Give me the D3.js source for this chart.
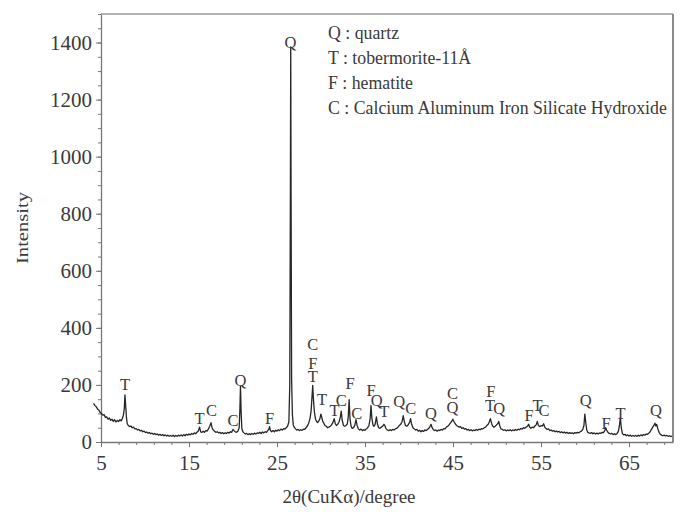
<!DOCTYPE html>
<html>
<head>
<meta charset="utf-8">
<script src="https://cdn.jsdelivr.net/npm/d3@7"></script>
<style>
  body { margin: 0; background: #fff; }
  text { font-family: "Liberation Serif", "Times New Roman", serif; fill: #3a3a3a; }
</style>
</head>
<body>
<svg id="xrd" width="688" height="512"></svg>
<script>
// scan, [2theta, intensity], split in three pieces
var scanLow = [[4.15,135],[4.3,128],[4.45,124],[4.6,116],[4.75,112],[4.9,104],[5.05,100],[5.2,94],[5.35,96],[5.5,86],[5.65,88],[5.8,80],[5.95,84],[6.1,76],[6.25,80],[6.4,72],[6.55,78],[6.7,70],[6.85,76],[7.0,72],[7.15,78],[7.3,74],[7.45,84],[7.55,95],[7.65,118],[7.72,165],[7.8,130],[7.88,90],[7.98,64],[8.1,58],[8.25,54],[8.4,56],[8.55,50],[8.7,52],[8.85,46],[9.0,47],[9.15,42],[9.3,44],[9.45,39],[9.6,41],[9.75,36],[9.9,38],[10.05,33],[10.2,35],[10.35,31],[10.5,33],[10.65,29],[10.8,31],[10.95,27],[11.1,30],[11.25,26],[11.4,28],[11.55,24],[11.7,27],[11.85,23],[12.0,26],[12.15,22],[12.3,25],[12.45,21],[12.6,24],[12.75,20],[12.9,23],[13.05,20],[13.2,24],[13.35,19],[13.5,23],[13.65,20],[13.8,24],[13.95,21],[14.1,25],[14.25,21],[14.4,26],[14.55,22],[14.7,27],[14.85,24],[15.0,28],[15.15,25],[15.3,30],[15.45,27],[15.6,32],[15.75,29],[15.9,34],[16.05,38],[16.2,52],[16.32,36],[16.45,33],[16.6,38],[16.75,34],[16.9,40],[17.05,38],[17.2,45],[17.35,55],[17.5,68],[17.62,50],[17.75,42],[17.9,38],[18.05,34],[18.2,36],[18.35,32],[18.5,34],[18.65,30],[18.8,33],[18.95,29],[19.1,32],[19.25,30],[19.4,34],[19.55,31],[19.7,36],[19.85,34],[20.0,44],[20.12,40],[20.25,36],[20.4,34],[20.55,38],[20.7,50],[20.78,110],[20.85,195],[20.92,110],[21.0,48],[21.12,36],[21.25,32],[21.4,28],[21.55,30],[21.7,26],[21.85,29],[22.0,26],[22.15,30],[22.3,27],[22.45,31],[22.6,28],[22.75,32],[22.9,30],[23.05,34],[23.2,30],[23.35,35],[23.5,32],[23.65,36],[23.8,34],[23.95,40],[24.08,46],[24.16,54],[24.25,40],[24.4,36],[24.55,40],[24.7,36],[24.85,41],[25.0,38],[25.15,43],[25.3,40],[25.45,45],[25.6,42],[25.75,47],[25.9,45],[26.05,50],[26.2,55],[26.35,70],[26.45,200],[26.52,860],[26.56,1385],[26.6,860],[26.66,220],[26.75,95],[26.85,60]];

var scanMid = [[26.95,52],[27.1,46],[27.25,42],[27.4,44],[27.55,40],[27.7,43],[27.85,41],[28.0,45],[28.15,44],[28.3,50],[28.45,56],[28.6,66],[28.75,82],[28.88,110],[28.98,160],[29.06,198],[29.14,150],[29.25,105],[29.38,80],[29.5,72],[29.62,68],[29.75,74],[29.88,82],[29.98,98],[30.08,88],[30.2,72],[30.32,66],[30.45,58],[30.6,55],[30.75,50],[30.9,52],[31.05,55],[31.2,60],[31.35,68],[31.5,82],[31.62,64],[31.75,58],[31.9,62],[32.05,70],[32.2,88],[32.3,108],[32.4,78],[32.55,58],[32.7,55],[32.85,58],[33.0,64],[33.1,90],[33.2,148],[33.3,80],[33.42,55],[33.55,48],[33.7,50],[33.85,60],[33.98,78],[34.1,58],[34.25,46],[34.4,42],[34.55,45],[34.7,40],[34.85,43],[35.0,41],[35.15,46],[35.3,50],[35.45,58],[35.58,80],[35.68,128],[35.78,85],[35.9,60],[36.02,55],[36.15,62],[36.3,88],[36.42,62],[36.55,50],[36.7,48],[36.85,52],[37.0,55],[37.15,62],[37.25,58],[37.4,46],[37.55,42],[37.7,40],[37.85,43],[38.0,40],[38.15,44],[38.3,42],[38.45,46],[38.6,48],[38.75,52],[38.9,58],[39.05,62],[39.2,70],[39.35,92],[39.48,70],[39.6,58],[39.75,55],[39.9,60],[40.05,68],[40.18,82],[40.3,62],[40.45,50],[40.6,46]];

var scanHigh = [[40.75,42],[40.9,44],[41.05,38],[41.2,41],[41.35,36],[41.5,40],[41.65,37],[41.8,42],[41.95,40],[42.1,44],[42.25,48],[42.4,55],[42.5,62],[42.6,52],[42.75,44],[42.9,40],[43.05,42],[43.2,38],[43.35,42],[43.5,40],[43.65,44],[43.8,42],[43.95,47],[44.1,46],[44.25,52],[44.4,55],[44.55,60],[44.7,66],[44.85,72],[44.98,80],[45.1,72],[45.25,64],[45.4,58],[45.55,55],[45.7,52],[45.85,54],[46.0,48],[46.15,50],[46.3,45],[46.45,47],[46.6,42],[46.75,44],[46.9,40],[47.05,43],[47.2,39],[47.35,42],[47.5,40],[47.65,44],[47.8,41],[47.95,45],[48.1,43],[48.25,47],[48.4,46],[48.55,50],[48.7,52],[48.85,58],[49.0,62],[49.12,70],[49.25,82],[49.38,66],[49.5,56],[49.65,52],[49.8,55],[49.95,60],[50.1,65],[50.2,72],[50.32,56],[50.45,46],[50.6,44],[50.75,41],[50.9,43],[51.05,39],[51.2,42],[51.35,40],[51.5,43],[51.65,39],[51.8,42],[51.95,40],[52.1,44],[52.25,41],[52.4,45],[52.55,43],[52.7,47],[52.85,45],[53.0,50],[53.15,48],[53.3,52],[53.45,55],[53.6,62],[53.72,52],[53.85,48],[54.0,52],[54.15,50],[54.3,56],[54.45,60],[54.58,72],[54.7,58],[54.85,54],[55.0,57],[55.15,56],[55.3,64],[55.42,52],[55.55,48],[55.7,44],[55.85,46],[56.0,40],[56.15,42],[56.3,38],[56.45,40],[56.6,36],[56.75,38],[56.9,35],[57.05,37],[57.2,33],[57.35,36],[57.5,32],[57.65,35],[57.8,31],[57.95,34],[58.1,30],[58.25,33],[58.4,30],[58.55,32],[58.7,29],[58.85,33],[59.0,31],[59.15,34],[59.3,32],[59.45,36],[59.6,38],[59.75,44],[59.88,58],[59.98,98],[60.08,70],[60.2,42],[60.32,34],[60.45,32],[60.6,30],[60.75,33],[60.9,29],[61.05,32],[61.2,28],[61.35,31],[61.5,28],[61.65,32],[61.8,30],[61.95,34],[62.1,33],[62.25,40],[62.35,50],[62.45,42],[62.6,34],[62.75,30],[62.9,28],[63.05,30],[63.2,26],[63.35,29],[63.5,26],[63.65,30],[63.8,38],[63.92,60],[64.02,86],[64.12,50],[64.25,30],[64.4,25],[64.55,27],[64.7,22],[64.85,25],[65.0,21],[65.15,24],[65.3,20],[65.45,23],[65.6,20],[65.75,23],[65.9,20],[66.05,24],[66.2,21],[66.35,25],[66.5,22],[66.65,26],[66.8,24],[66.95,28],[67.1,27],[67.25,31],[67.4,36],[67.55,44],[67.7,52],[67.82,58],[67.95,66],[68.05,56],[68.15,62],[68.28,46],[68.42,34],[68.56,27],[68.7,24],[68.85,22],[69.0,24],[69.15,21],[69.3,23],[69.45,20],[69.6,22],[69.75,19],[69.9,21]];

// phase letters on the peaks: [2theta, intensity, letter]
var peakLabels = [[7.72,200,"T"],[16.2,84,"T"],[17.55,112,"C"],[20.0,77,"C"],[20.84,217,"Q"],[24.16,83,"F"],[26.54,1400,"Q"],
  [29.07,340,"C"],[29.07,275,"F"],[29.07,229,"T"],[30.13,149,"T"],[31.53,112,"T"],[32.3,147,"C"],[33.3,205,"F"],[34.06,100,"C"],
  [35.7,182,"F"],[36.33,145,"Q"],[37.2,106,"T"],[38.9,141,"Q"],[40.2,118,"C"],[42.5,100,"Q"],[44.95,170,"C"],[44.95,121,"Q"],
  [49.3,176,"F"],[49.2,129,"T"],[50.24,118,"Q"],[53.64,94,"F"],[54.6,129,"T"],[55.34,112,"C"],[60.07,147,"Q"],[62.4,65,"F"],
  [64.05,100,"T"],[68.05,112,"Q"]];

var legendKeys = ["Q", "T", "F", "C"];
var legendNames = ["quartz", "tobermorite-11\u00c5", "hematite", "Calcium Aluminum Iron Silicate Hydroxide"];

var xMajor = [5, 15, 25, 35, 45, 55, 65];
var yMajor = [0, 200, 400, 600, 800, 1000, 1200, 1400];

(function() {
  var svg = d3.select("#xrd");
  var plotL = 101, plotR = 673, plotT = 14, plotB = 442;

  var x = d3.scaleLinear().domain([5, 70]).range([plotL, plotR]);
  var y = d3.scaleLinear().domain([0, 1500]).range([plotB, plotT]);

  var scan = scanLow.concat(scanMid, scanHigh);

  // frame top and right
  svg.append("line").attr("x1", plotL).attr("x2", plotR).attr("y1", plotT).attr("y2", plotT)
    .style("stroke", "#9a9a9a").style("stroke-width", 1.5);
  svg.append("line").attr("x1", plotR).attr("x2", plotR).attr("y1", plotT).attr("y2", plotB)
    .style("stroke", "#8a8a8a").style("stroke-width", 2);

  // minor ticks
  svg.append("g").attr("transform", `translate(0,${plotB})`)
    .call(d3.axisBottom(x).tickValues(d3.range(5, 70, 2)).tickSize(3).tickFormat(""))
    .call(g => g.select(".domain").remove());
  svg.append("g").attr("transform", `translate(${plotL},0)`)
    .call(d3.axisLeft(y).tickValues(d3.range(0, 1501, 50)).tickSize(3).tickFormat(""))
    .call(g => g.select(".domain").remove());

  // major ticks + labels
  svg.append("g").attr("transform", `translate(0,${plotB})`)
    .call(d3.axisBottom(x).tickValues(xMajor).tickSize(5).tickSizeOuter(0).tickPadding(8));
  svg.append("g").attr("transform", `translate(${plotL},0)`)
    .call(d3.axisLeft(y).tickValues(yMajor).tickFormat(d3.format("d")).tickSize(5).tickSizeOuter(0).tickPadding(4));

  svg.selectAll(".tick line").style("stroke", "#777");
  svg.selectAll(".domain").style("stroke", "#777").style("stroke-width", 1.3);
  svg.selectAll(".tick text").style("font-family", "Liberation Serif, serif")
    .style("font-size", "21px").style("fill", "#3a3a3a");

  // the scan
  var line = d3.line().x(d => x(d[0])).y(d => y(d[1]));
  svg.append("path").datum(scan).attr("d", line)
    .style("fill", "none").style("stroke", "#262626").style("stroke-width", 1.3)
    .style("stroke-linejoin", "round");

  // peak letters
  svg.append("g").selectAll("text").data(peakLabels).join("text")
    .attr("x", d => x(d[0]))
    .attr("y", d => y(d[1]) + 5.5)
    .attr("text-anchor", "middle")
    .style("font-size", "16.5px")
    .text(d => d[2]);

  // legend
  svg.append("g").selectAll("text").data(legendKeys).join("text")
    .attr("x", 328)
    .attr("y", (d, i) => 39 + i * 25)
    .style("font-size", "17.8px")
    .text((d, i) => d + " : " + legendNames[i]);

  // axis titles
  svg.append("text").attr("x", 349).attr("y", 503).attr("text-anchor", "middle")
    .style("font-size", "19px").text("2\u03b8(CuK\u03b1)/degree");
  svg.append("text").attr("transform", "translate(28,228) rotate(-90)")
    .attr("text-anchor", "middle").attr("textLength", 72).attr("lengthAdjust", "spacingAndGlyphs")
    .style("font-size", "17px").text("Intensity");
})();
</script>
</body>
</html>
